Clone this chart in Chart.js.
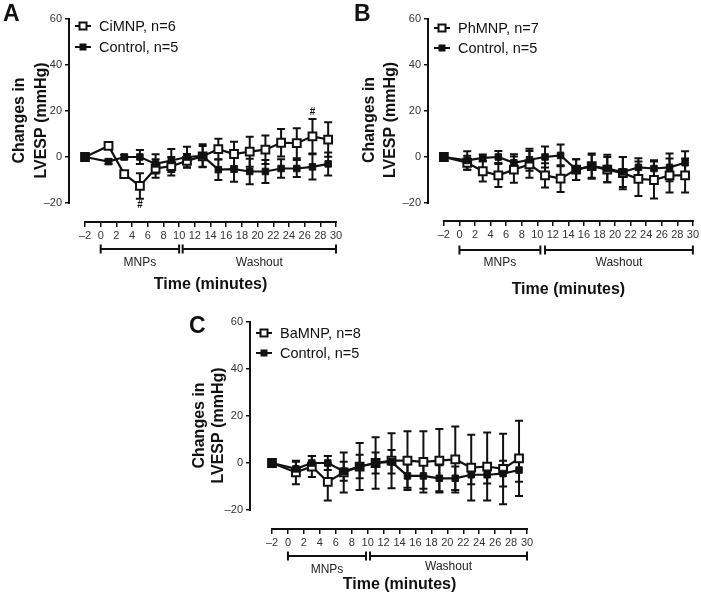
<!DOCTYPE html>
<html>
<head>
<meta charset="utf-8">
<script src="https://cdn.jsdelivr.net/npm/chart.js@4.4.0/dist/chart.umd.min.js"></script>
<style>
  body { margin: 0; background: #fff; }
  #wrap { position: relative; width: 701px; height: 596px; overflow: hidden; }
  canvas { position: absolute; }
  .tag { position: absolute; font: bold 23px 'Liberation Sans', Arial, sans-serif; color: #111; line-height: 1; }
</style>
</head>
<body>
<div id="wrap">
  <canvas id="chartA" width="350" height="300" style="left:0;top:0"></canvas>
  <canvas id="chartB" width="351" height="300" style="left:350px;top:0"></canvas>
  <canvas id="chartC" width="360" height="296" style="left:180px;top:300px"></canvas>
  <div class="tag" style="left:3px;top:2px">A</div>
  <div class="tag" style="left:354px;top:2px">B</div>
  <div class="tag" style="left:189px;top:314px">C</div>
</div>
<script>
// shared axes
const timePoints = [-2, 1, 3, 5, 7, 9, 11, 13, 15, 17, 19, 21, 23, 25, 27, 29];
const xTickValues = [-2, 0, 2, 4, 6, 8, 10, 12, 14, 16, 18, 20, 22, 24, 26, 28, 30];
const yTickValues = [-20, 0, 20, 40, 60];
const phaseNames = ['MNPs', 'Washout'];

// panel A
const ciMNP = [0, 4.8, -7.4, -12.6, -5, -4, -1.7, 0.3, 3.4, 1.3, 2.3, 3.2, 6.2, 6, 9, 7.6];
const ciMNPSem = [0, 1, 1, 5.5, 4, 4, 3, 4.5, 4.5, 5.3, 6.5, 6.2, 6, 6.5, 7.5, 7.5];
const controlA = [0, -2, 0, 0, -3, -1.5, 0, 0.5, -5.5, -5.3, -6.3, -6.3, -5, -5, -4.3, -3];
const controlASem = [0, 1, 1, 3, 4.2, 5, 4.5, 5, 4.5, 5.5, 5.5, 5, 4, 3.7, 5.5, 5];
const mnpsA = [0, 10.0];
const washoutA = [10.45, 30];
const hashBelowA = [5];
const hashAboveA = [27];

// panel B
const phMNP = [0, -2.5, -6.2, -8, -5.5, -3.2, -8, -9.4, -5.5, -4, -5.5, -7, -9.5, -10, -8, -8];
const phMNPSem = [0, 3, 4.4, 5, 5.7, 5.8, 5.3, 5.8, 4.5, 5.5, 5.5, 7, 7.5, 8, 7.4, 7.4];
const controlB = [0, -1.5, -0.4, 0, -2.5, -1.2, 0, 0.7, -5.5, -4, -5, -6.5, -4.5, -5, -4.5, -2.5];
const controlBSem = [0, 4, 1.5, 2.6, 3.7, 4.8, 4.6, 4.7, 4.5, 5, 6, 6.5, 4, 3.6, 6, 5];
const mnpsB = [0, 10.4];
const washoutB = [11, 30];

// panel C
const baMNP = [0, -4, -1.5, -8, -4, -1.5, 0, 1, 1, 0.5, 1, 1.5, -2, -1.5, -2.5, 2];
const baMNPSem = [0, 5, 4.5, 8, 8.5, 10, 11, 11.7, 12.5, 13, 13.5, 14, 14, 14.5, 15, 16];
const controlC = [0, -2.5, 0, 0, -3.5, -1.5, 0, 0.5, -5.5, -5.5, -6.5, -6.5, -5, -5, -4.5, -3];
const controlCSem = [0, 3, 3, 3, 4, 5, 4.5, 5, 5, 5.5, 5.5, 5, 4, 3.7, 5.5, 5];
const mnpsC = [0, 9.8];
const washoutC = [10.3, 30];

const FONT = "'Liberation Sans', Arial, sans-serif";
const INK = '#111';
Chart.defaults.font.family = FONT;

const toPoints = (vals) => vals.map((v, i) => ({ x: timePoints[i], y: v }));
const fmtTick = (v) => (v < 0 ? '\u2013' + Math.abs(v) : String(v));

function makePanel(id, cfg) {
  const area = cfg.area;

  const decor = {
    id: 'decor',
    beforeDatasetsDraw(chart) {
      // error bars under the markers
      const { ctx, scales: { x, y } } = chart;
      ctx.save();
      ctx.strokeStyle = INK;
      ctx.lineWidth = 2;
      chart.data.datasets.forEach((ds) => {
        ds.errors.forEach((e, i) => {
          if (!e) return;
          const px = x.getPixelForValue(timePoints[i]);
          const top = y.getPixelForValue(ds.data[i].y + e);
          const bot = y.getPixelForValue(ds.data[i].y - e);
          ctx.beginPath();
          ctx.moveTo(px, top); ctx.lineTo(px, bot);
          ctx.moveTo(px - 4, top); ctx.lineTo(px + 4, top);
          ctx.moveTo(px - 4, bot); ctx.lineTo(px + 4, bot);
          ctx.stroke();
        });
      });
      ctx.restore();
    },
    afterDraw(chart) {
      const { ctx, chartArea, scales: { x, y } } = chart;
      ctx.save();
      ctx.strokeStyle = INK;
      ctx.fillStyle = INK;
      ctx.lineWidth = 2;

      // detached axis lines
      ctx.beginPath();
      ctx.moveTo(chartArea.left, y.getPixelForValue(yTickValues[yTickValues.length - 1]) - 1);
      ctx.lineTo(chartArea.left, y.getPixelForValue(yTickValues[0]) + 1);
      ctx.moveTo(x.getPixelForValue(xTickValues[0]) - 1, chartArea.bottom);
      ctx.lineTo(x.getPixelForValue(xTickValues[xTickValues.length - 1]) + 1, chartArea.bottom);
      ctx.stroke();

      // phase brackets
      const by = chartArea.bottom + cfg.bracketGap;
      ctx.font = '12px ' + FONT;
      ctx.textAlign = 'center';
      ctx.textBaseline = 'middle';
      [cfg.mnps, cfg.washout].forEach((rng, k) => {
        const x0 = x.getPixelForValue(rng[0]);
        const x1 = x.getPixelForValue(rng[1]);
        ctx.beginPath();
        ctx.moveTo(x0, by); ctx.lineTo(x1, by);
        ctx.moveTo(x0, by - 4.5); ctx.lineTo(x0, by + 4.5);
        ctx.moveTo(x1, by - 4.5); ctx.lineTo(x1, by + 4.5);
        ctx.stroke();
        ctx.fillStyle = '#222';
        ctx.fillText(phaseNames[k], (x0 + x1) / 2, chartArea.bottom + cfg.phaseLabelGap[k]);
      });

      // x axis title, centred on the drawn axis
      ctx.fillStyle = INK;
      ctx.font = 'bold 16px ' + FONT;
      const mid = (x.getPixelForValue(xTickValues[0]) + x.getPixelForValue(xTickValues[xTickValues.length - 1])) / 2;
      ctx.fillText('Time (minutes)', mid, cfg.xTitleY);

      // significance marks
      ctx.font = 'bold 10px ' + FONT;
      const tr = chart.data.datasets[0];
      (cfg.hashBelow || []).forEach((t) => {
        const i = timePoints.indexOf(t);
        ctx.fillText('#', x.getPixelForValue(t), y.getPixelForValue(tr.data[i].y - tr.errors[i]) + 7);
      });
      (cfg.hashAbove || []).forEach((t) => {
        const i = timePoints.indexOf(t);
        ctx.fillText('#', x.getPixelForValue(t), y.getPixelForValue(tr.data[i].y + tr.errors[i]) - 7);
      });

      // legend in the top-left corner of the plot
      const sx = chartArea.left + 14;
      ctx.font = '14.5px ' + FONT;
      ctx.textAlign = 'left';
      chart.data.datasets.forEach((ds, k) => {
        const ly = cfg.legendY[k];
        ctx.beginPath();
        ctx.moveTo(sx - 8, ly); ctx.lineTo(sx + 8, ly);
        ctx.stroke();
        if (ds.open) {
          ctx.fillStyle = '#fff';
          ctx.fillRect(sx - 3.5, ly - 3.5, 7, 7);
          ctx.strokeRect(sx - 3.5, ly - 3.5, 7, 7);
        } else {
          ctx.fillStyle = INK;
          ctx.fillRect(sx - 3.5, ly - 3.5, 7, 7);
        }
        ctx.fillStyle = INK;
        ctx.fillText(ds.label, chartArea.left + 30, ly + 1);
      });
      ctx.restore();
    }
  };

  const pxPerUnitX = (area.right - area.x0) / (xTickValues[xTickValues.length - 1] - xTickValues[0]);
  const xMin = xTickValues[0] - (area.x0 - area.left) / pxPerUnitX;
  const pxPerUnitY = (area.y20 - area.top) / (yTickValues[yTickValues.length - 1] - yTickValues[0]);
  const yMin = yTickValues[0] - (area.bottom - area.y20) / pxPerUnitY;

  new Chart(document.getElementById(id), {
    type: 'line',
    data: {
      datasets: [
        {
          label: cfg.label,
          data: toPoints(cfg.treat),
          errors: cfg.treatSem,
          open: true,
          order: 1,
          borderColor: INK,
          borderWidth: 2.2,
          tension: 0,
          pointStyle: 'rect',
          pointRadius: 5.5,
          pointBorderWidth: 2,
          pointBorderColor: INK,
          pointBackgroundColor: '#fff'
        },
        {
          label: 'Control, n=5',
          data: toPoints(cfg.control),
          errors: cfg.controlSem,
          open: false,
          order: 0,
          borderColor: INK,
          borderWidth: 2.2,
          tension: 0,
          pointStyle: 'rect',
          pointRadius: 4.6,
          pointBorderWidth: 1,
          pointBorderColor: INK,
          pointBackgroundColor: INK
        }
      ]
    },
    options: {
      responsive: false,
      animation: false,
      events: [],
      layout: { padding: { left: 0, top: area.top, right: cfg.w - area.right, bottom: 0 } },
      plugins: { legend: { display: false }, tooltip: { enabled: false } },
      scales: {
        x: {
          type: 'linear',
          min: xMin,
          max: xTickValues[xTickValues.length - 1],
          border: { display: false },
          grid: { drawOnChartArea: false, drawTicks: true, tickLength: 5, color: INK, lineWidth: 1.5 },
          ticks: { autoSkip: false, maxRotation: 0, minRotation: 0, padding: 2, color: '#333', font: { size: 11 }, callback: fmtTick },
          afterBuildTicks: (scale) => { scale.ticks = xTickValues.map((v) => ({ value: v })); },
          afterFit: (scale) => { scale.height = cfg.h - area.bottom; }
        },
        y: {
          type: 'linear',
          min: yMin,
          max: yTickValues[yTickValues.length - 1],
          border: { display: false },
          grid: { drawOnChartArea: false, drawTicks: true, tickLength: 4, color: INK, lineWidth: 1.5 },
          ticks: { padding: 3, color: '#333', font: { size: 11 }, callback: fmtTick },
          title: {
            display: true,
            text: ['Changes in', 'LVESP (mmHg)'],
            color: INK,
            font: { size: 16, weight: 'bold', lineHeight: cfg.titleLH / 16 },
            padding: { top: cfg.titleX - cfg.titleLH / 2, bottom: 0 }
          },
          afterBuildTicks: (scale) => { scale.ticks = yTickValues.map((v) => ({ value: v })); },
          afterFit: (scale) => { scale.width = area.left; }
        }
      }
    },
    plugins: [decor]
  });
}

makePanel('chartA', {
  w: 350, h: 300,
  area: { left: 69, x0: 85, right: 336, top: 19, y20: 203, bottom: 222 },
  label: 'CiMNP, n=6', treat: ciMNP, treatSem: ciMNPSem, control: controlA, controlSem: controlASem,
  mnps: mnpsA, washout: washoutA, bracketGap: 27, phaseLabelGap: [41, 41],
  xTitleY: 285, titleX: 20, titleLH: 22, legendY: [26, 47],
  hashBelow: hashBelowA, hashAbove: hashAboveA
});

makePanel('chartB', {
  w: 351, h: 300,
  area: { left: 78, x0: 94, right: 345, top: 19, y20: 203, bottom: 221 },
  label: 'PhMNP, n=7', treat: phMNP, treatSem: phMNPSem, control: controlB, controlSem: controlBSem,
  mnps: mnpsB, washout: washoutB, bracketGap: 29, phaseLabelGap: [42, 42],
  xTitleY: 290, titleX: 20, titleLH: 21, legendY: [28, 48]
});

makePanel('chartC', {
  w: 360, h: 296,
  area: { left: 70, x0: 92, right: 347, top: 22, y20: 210, bottom: 229 },
  label: 'BaMNP, n=8', treat: baMNP, treatSem: baMNPSem, control: controlC, controlSem: controlCSem,
  mnps: mnpsC, washout: washoutC, bracketGap: 27, phaseLabelGap: [41, 38],
  xTitleY: 285, titleX: 20, titleLH: 19, legendY: [33, 53]
});
</script>
</body>
</html>
